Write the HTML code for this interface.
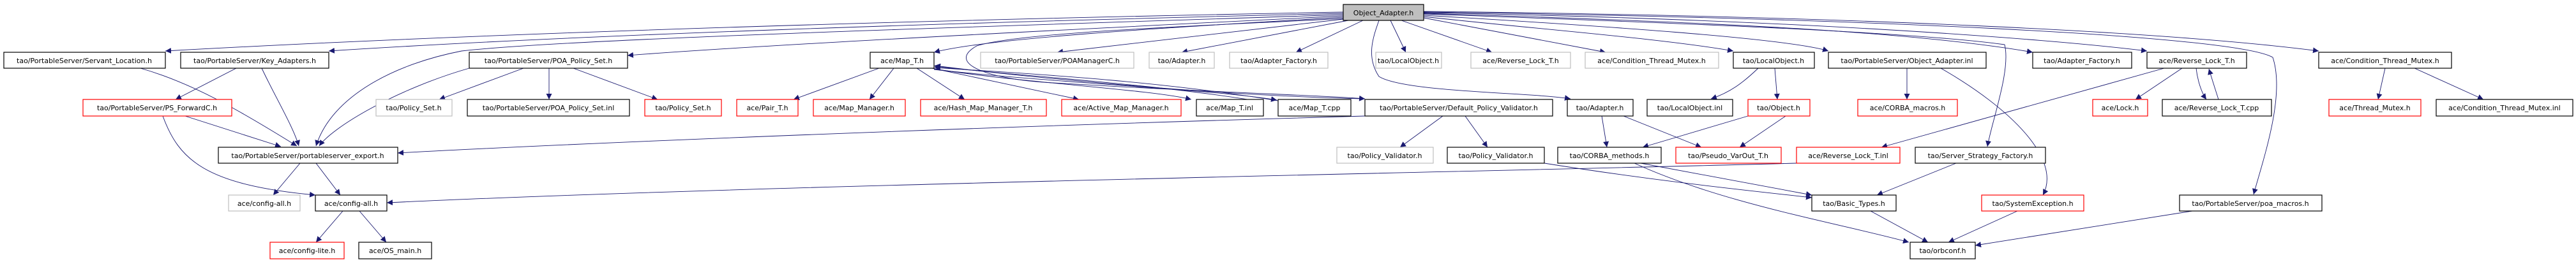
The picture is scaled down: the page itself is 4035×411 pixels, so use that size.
<!DOCTYPE html>
<html><head><meta charset="utf-8"><style>
html,body{margin:0;padding:0;background:#fff;}
svg{display:block;}
text{font-family:"DejaVu Sans","Liberation Sans",sans-serif;font-size:11px;text-anchor:middle;fill:#000;}
.b{fill:#fff;stroke:#000;stroke-width:1.2;}
.g{fill:#fff;stroke:#bfbfbf;stroke-width:1.2;}
.r{fill:#fff;stroke:#ff0000;stroke-width:1.2;}
.e{fill:none;stroke:#191970;stroke-width:0.9;marker-end:url(#a);}
</style></head><body>
<svg width="4035" height="411" viewBox="0 0 4035 411" xmlns="http://www.w3.org/2000/svg">
<defs><marker id="a" viewBox="0 0 10 10" refX="10" refY="5" markerWidth="9" markerHeight="9" markerUnits="userSpaceOnUse" orient="auto"><path d="M0,0 L10,5 L0,10 z" fill="#191970"/></marker></defs>
<g>
<path class="e" d="M2104,19 C1500,30 800,50 259,80"/>
<path class="e" d="M2104,21 C1500,35 900,55 515,80"/>
<path class="e" d="M2104,23 C1600,40 900,60 723,80 C620,100 520,150 495,229"/>
<path class="e" d="M2104,25 C1700,45 1200,70 983,87"/>
<path class="e" d="M2104,27 C1800,45 1550,60 1463,82"/>
<path class="e" d="M2104,29 C1900,40 1600,50 1530,72 C1480,100 1550,125 1650,130 C1900,145 2080,150 2138,155"/>
<path class="e" d="M2104,30 L1656,82"/>
<path class="e" d="M2112,32 L1851,82"/>
<path class="e" d="M2135,32 L2030,82"/>
<path class="e" d="M2160,32 C2150,60 2140,90 2160,120 C2200,145 2400,145 2460,155"/>
<path class="e" d="M2178,32 L2202,82"/>
<path class="e" d="M2195,32 L2337,82"/>
<path class="e" d="M2230,28 L2515,82"/>
<path class="e" d="M2230,26 C2400,45 2600,60 2715,80"/>
<path class="e" d="M2230,24 C2500,40 2800,60 2864,80"/>
<path class="e" d="M2230,22 C2600,35 3000,50 3140,70 C3150,110 3120,190 3113,230"/>
<path class="e" d="M2230,21 C2700,35 3000,50 3184,82"/>
<path class="e" d="M2230,20 C2800,30 3200,60 3363,80"/>
<path class="e" d="M2230,19 C2900,28 3500,55 3560,90 C3580,150 3545,250 3530,305"/>
<path class="e" d="M2230,18 C2900,25 3400,50 3632,80"/>
<path class="e" d="M220,107 C300,130 370,170 465,229"/>
<path class="e" d="M410,107 C430,150 460,200 468,229"/>
<path class="e" d="M370,107 L275,156"/>
<path class="e" d="M290,182 L440,230"/>
<path class="e" d="M255,182 C280,250 320,290 494,306"/>
<path class="e" d="M735,107 C620,140 520,200 500,229"/>
<path class="e" d="M820,107 L688,156"/>
<path class="e" d="M860,107 L860,156"/>
<path class="e" d="M898,107 L1030,156"/>
<path class="e" d="M1377,107 L1243,156"/>
<path class="e" d="M1400,107 L1362,156"/>
<path class="e" d="M1436,107 L1511,156"/>
<path class="e" d="M1460,107 L1690,156"/>
<path class="e" d="M1463,108 C1600,130 1800,140 1866,156"/>
<path class="e" d="M1463,109 C1650,130 1900,140 2000,157"/>
<path class="e" d="M1979,160 C1800,130 1600,120 1464,104"/>
<path class="e" d="M2002,158 C1800,125 1600,115 1464,106"/>
<path class="e" d="M2138,155 C1900,150 1600,120 1464,103"/>
<path class="e" d="M2138,182 C1500,200 900,225 623,240"/>
<path class="e" d="M470,256 L428,306"/>
<path class="e" d="M495,256 L533,306"/>
<path class="e" d="M537,331 L495,380"/>
<path class="e" d="M563,331 L605,380"/>
<path class="e" d="M2260,182 L2193,231"/>
<path class="e" d="M2295,182 L2330,231"/>
<path class="e" d="M2509,182 L2517,231"/>
<path class="e" d="M2543,182 L2665,231"/>
<path class="e" d="M2754,107 C2730,130 2710,145 2680,155"/>
<path class="e" d="M2780,107 L2784,156"/>
<path class="e" d="M2738,182 L2573,231"/>
<path class="e" d="M2797,182 L2725,231"/>
<path class="e" d="M2987,107 L2987,156"/>
<path class="e" d="M3040,107 C3150,170 3230,250 3200,306"/>
<path class="e" d="M3390,107 L2947,231"/>
<path class="e" d="M3418,107 L3345,156"/>
<path class="e" d="M3440,107 C3442,125 3448,145 3456,156"/>
<path class="e" d="M3475,156 C3470,140 3465,125 3460,108"/>
<path class="e" d="M3736,107 L3725,156"/>
<path class="e" d="M3782,107 L3890,156"/>
<path class="e" d="M2814,256 C2300,270 1200,290 606,318"/>
<path class="e" d="M2419,256 C2600,285 2750,300 2838,310"/>
<path class="e" d="M2570,256 L2838,306"/>
<path class="e" d="M2560,256 C2700,320 2880,350 2990,380"/>
<path class="e" d="M3064,256 L2940,306"/>
<path class="e" d="M2930,331 L3020,380"/>
<path class="e" d="M3160,331 L3052,380"/>
<path class="e" d="M3434,331 L3094,385"/>
</g>
<g>
<rect x="2104" y="7" width="126" height="25" fill="#bfbfbf" stroke="#000" stroke-width="1.2"/><text x="2167" y="24">Object_Adapter.h</text>
<rect class="b" x="6" y="82" width="253" height="25"/><text x="132" y="99">tao/PortableServer/Servant_Location.h</text>
<rect class="b" x="283" y="82" width="232" height="25"/><text x="399" y="99">tao/PortableServer/Key_Adapters.h</text>
<rect class="b" x="735" y="82" width="248" height="25"/><text x="859" y="99">tao/PortableServer/POA_Policy_Set.h</text>
<rect class="b" x="1363" y="82" width="100" height="25"/><text x="1413" y="99">ace/Map_T.h</text>
<rect class="g" x="1536" y="82" width="240" height="25"/><text x="1656" y="99">tao/PortableServer/POAManagerC.h</text>
<rect class="g" x="1800" y="82" width="102" height="25"/><text x="1851" y="99">tao/Adapter.h</text>
<rect class="g" x="1926" y="82" width="154" height="25"/><text x="2003" y="99">tao/Adapter_Factory.h</text>
<rect class="g" x="2155" y="82" width="103" height="25"/><text x="2206" y="99">tao/LocalObject.h</text>
<rect class="g" x="2304" y="82" width="156" height="25"/><text x="2382" y="99">ace/Reverse_Lock_T.h</text>
<rect class="g" x="2483" y="82" width="209" height="25"/><text x="2587" y="99">ace/Condition_Thread_Mutex.h</text>
<rect class="b" x="2715" y="82" width="127" height="25"/><text x="2778" y="99">tao/LocalObject.h</text>
<rect class="b" x="2864" y="82" width="247" height="25"/><text x="2987" y="99">tao/PortableServer/Object_Adapter.inl</text>
<rect class="b" x="3184" y="82" width="155" height="25"/><text x="3261" y="99">tao/Adapter_Factory.h</text>
<rect class="b" x="3363" y="82" width="156" height="25"/><text x="3441" y="99">ace/Reverse_Lock_T.h</text>
<rect class="b" x="3632" y="82" width="208" height="25"/><text x="3736" y="99">ace/Condition_Thread_Mutex.h</text>

<rect class="r" x="130" y="156" width="233" height="26"/><text x="246" y="173">tao/PortableServer/PS_ForwardC.h</text>
<rect class="g" x="589" y="156" width="119" height="26"/><text x="648" y="173">tao/Policy_Set.h</text>
<rect class="b" x="732" y="156" width="254" height="26"/><text x="859" y="173">tao/PortableServer/POA_Policy_Set.inl</text>
<rect class="r" x="1010" y="156" width="120" height="26"/><text x="1070" y="173">tao/Policy_Set.h</text>
<rect class="r" x="1154" y="156" width="96" height="26"/><text x="1202" y="173">ace/Pair_T.h</text>
<rect class="r" x="1274" y="156" width="144" height="26"/><text x="1346" y="173">ace/Map_Manager.h</text>
<rect class="r" x="1442" y="156" width="197" height="26"/><text x="1540" y="173">ace/Hash_Map_Manager_T.h</text>
<rect class="r" x="1663" y="156" width="187" height="26"/><text x="1756" y="173">ace/Active_Map_Manager.h</text>
<rect class="b" x="1874" y="156" width="105" height="26"/><text x="1926" y="173">ace/Map_T.inl</text>
<rect class="b" x="2002" y="156" width="114" height="26"/><text x="2059" y="173">ace/Map_T.cpp</text>
<rect class="b" x="2138" y="156" width="294" height="26"/><text x="2285" y="173">tao/PortableServer/Default_Policy_Validator.h</text>
<rect class="b" x="2455" y="156" width="103" height="26"/><text x="2506" y="173">tao/Adapter.h</text>
<rect class="b" x="2580" y="156" width="134" height="26"/><text x="2647" y="173">tao/LocalObject.inl</text>
<rect class="r" x="2738" y="156" width="97" height="26"/><text x="2786" y="173">tao/Object.h</text>
<rect class="r" x="2910" y="156" width="156" height="26"/><text x="2988" y="173">ace/CORBA_macros.h</text>
<rect class="r" x="3278" y="156" width="86" height="26"/><text x="3321" y="173">ace/Lock.h</text>
<rect class="b" x="3387" y="156" width="171" height="26"/><text x="3472" y="173">ace/Reverse_Lock_T.cpp</text>
<rect class="r" x="3648" y="156" width="144" height="26"/><text x="3720" y="173">ace/Thread_Mutex.h</text>
<rect class="b" x="3816" y="156" width="214" height="26"/><text x="3923" y="173">ace/Condition_Thread_Mutex.inl</text>

<rect class="b" x="342" y="231" width="281" height="25"/><text x="482" y="248">tao/PortableServer/portableserver_export.h</text>
<rect class="g" x="2094" y="231" width="151" height="25"/><text x="2169" y="248">tao/Policy_Validator.h</text>
<rect class="b" x="2267" y="231" width="152" height="25"/><text x="2343" y="248">tao/Policy_Validator.h</text>
<rect class="b" x="2440" y="231" width="162" height="25"/><text x="2521" y="248">tao/CORBA_methods.h</text>
<rect class="r" x="2625" y="231" width="165" height="25"/><text x="2707" y="248">tao/Pseudo_VarOut_T.h</text>
<rect class="r" x="2814" y="231" width="162" height="25"/><text x="2895" y="248">ace/Reverse_Lock_T.inl</text>
<rect class="b" x="3000" y="231" width="204" height="25"/><text x="3102" y="248">tao/Server_Strategy_Factory.h</text>

<rect class="g" x="358" y="306" width="112" height="25"/><text x="414" y="323">ace/config-all.h</text>
<rect class="b" x="494" y="306" width="112" height="25"/><text x="550" y="323">ace/config-all.h</text>
<rect class="b" x="2838" y="306" width="132" height="25"/><text x="2904" y="323">tao/Basic_Types.h</text>
<rect class="r" x="3104" y="306" width="160" height="25"/><text x="3184" y="323">tao/SystemException.h</text>
<rect class="b" x="3414" y="306" width="223" height="25"/><text x="3525" y="323">tao/PortableServer/poa_macros.h</text>

<rect class="r" x="423" y="380" width="116" height="26"/><text x="481" y="397">ace/config-lite.h</text>
<rect class="b" x="562" y="380" width="114" height="26"/><text x="619" y="397">ace/OS_main.h</text>
<rect class="b" x="2992" y="380" width="102" height="26"/><text x="3043" y="397">tao/orbconf.h</text>
</g>
</svg>
</body></html>
